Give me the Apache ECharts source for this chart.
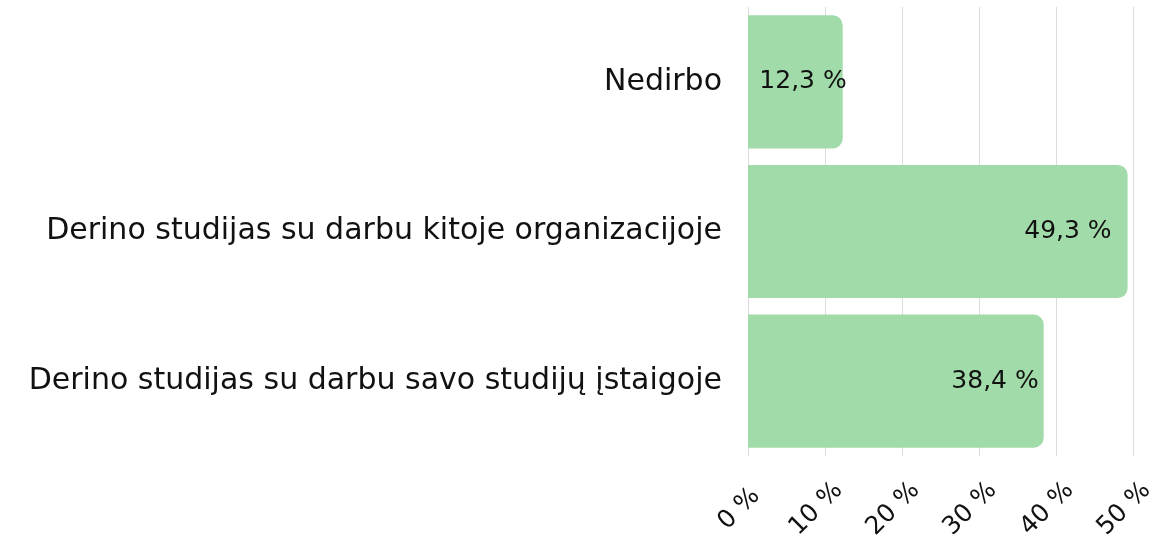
<!DOCTYPE html>
<html>
<head>
<meta charset="utf-8">
<script src="https://cdn.jsdelivr.net/npm/echarts@6/dist/echarts.min.js"></script>
<style>
  html, body { margin: 0; padding: 0; background: #fff; }
  #chart { width: 1153px; height: 542px; }
</style>
</head>
<body>
<div id="chart"></div>
<script>
// categories listed bottom to top (ECharts category y-axis starts at the bottom)
var categories = [
	'Derino studijas su darbu savo studijų įstaigoje',
	'Derino studijas su darbu kitoje organizacijoje',
	'Nedirbo'
];
var shares = [38.4, 49.3, 12.3];
var xTicks = [0, 10, 20, 30, 40, 50];

var fontName = 'DejaVu Sans';
// gap between bar end and the value label, same order as shares
var labelGap = [5, 16, -4];

var chart = echarts.init(document.getElementById('chart'));

function pct(v) {
	return String(v).replace('.', ',') + ' %';
}

chart.setOption({
	animation: false,
	grid: { left: 748, right: 20, top: 7, bottom: 86, outerBoundsMode: 'none' },
	xAxis: {
		type: 'value',
		min: xTicks[0],
		max: xTicks[xTicks.length - 1],
		interval: 10,
		axisLine: { show: false },
		axisTick: { show: false },
		splitLine: { show: true, lineStyle: { color: '#dcdcdc', width: 1 } },
		axisLabel: {
			rotate: 45,
			align: 'center',
			verticalAlign: 'middle',
			margin: 44,
			fontFamily: fontName,
			fontSize: 25,
			color: '#111',
			// trailing en spaces nudge the rotated label a little to the left
			formatter: function (v) { return v + ' %\u2002\u2002'; }
		}
	},
	yAxis: {
		type: 'category',
		data: categories,
		axisLine: { show: false },
		axisTick: { show: false },
		axisLabel: {
			margin: 26,
			fontFamily: fontName,
			fontSize: 30,
			color: '#111'
		}
	},
	series: [{
		type: 'bar',
		data: shares.map(function (v, i) {
			return { value: v, label: { distance: labelGap[i] } };
		}),
		barCategoryGap: '11%',
		itemStyle: { color: '#a1dba9', borderRadius: [0, 10, 10, 0] },
		label: {
			show: true,
			position: 'insideRight',
			fontFamily: fontName,
			fontSize: 25,
			color: '#111',
			formatter: function (p) { return pct(p.value); }
		}
	}]
});
</script>
</body>
</html>
